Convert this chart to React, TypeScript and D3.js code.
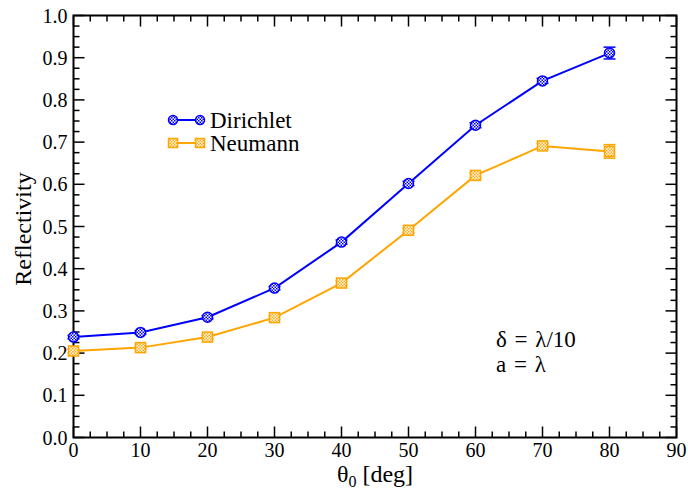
import React from "react";
import * as d3 from "d3";

const angles = [0, 10, 20, 30, 40, 50, 60, 70, 80];
const dirichlet = [0.238, 0.249, 0.285, 0.354, 0.463, 0.602, 0.740, 0.845, 0.911];
const dirichletErr = [0.004, 0.004, 0.004, 0.004, 0.005, 0.005, 0.006, 0.006, 0.014];
const neumann = [0.205, 0.213, 0.238, 0.284, 0.366, 0.491, 0.621, 0.691, 0.678];
const neumannErr = [0.004, 0.004, 0.004, 0.004, 0.005, 0.005, 0.006, 0.006, 0.016];
const xTicks = [0, 10, 20, 30, 40, 50, 60, 70, 80, 90];
const yTicks = [0, 0.1, 0.2, 0.3, 0.4, 0.5, 0.6, 0.7, 0.8, 0.9, 1.0];

const W = 688, H = 489;
const L = 73.5, R = 676.5, T = 15.5, B = 437.5;
const FONT = "'Liberation Serif', 'DejaVu Serif', serif";
const BLUE = "#0000ff";
const ORANGE = "#ffa500";

export default function App() {
  const x = d3.scaleLinear().domain([0, 90]).range([L, R]);
  const y = d3.scaleLinear().domain([0, 1]).range([B, T]);
  const line = d3.line<number>().x((_, i) => x(angles[i])).y((d) => y(d));

  const xMinor = d3.range(0, 90.01, 2.5);
  const yMinor = d3.range(0, 1.0001, 0.025);
  const major = 11, minor = 6;

  const errBars = (vals: number[], errs: number[], color: string) =>
    vals.map((v, i) => {
      const cx = x(angles[i]);
      const y1 = y(v + errs[i]), y2 = y(v - errs[i]);
      return (
        <g key={"e" + i} stroke={color} strokeWidth={1.5}>
          <line x1={cx} x2={cx} y1={y1} y2={y2} />
          <line x1={cx - 6} x2={cx + 6} y1={y1} y2={y1} />
          <line x1={cx - 6} x2={cx + 6} y1={y2} y2={y2} />
        </g>
      );
    });

  return (
    <svg width={W} height={H} style={{ position: "absolute", left: 0, top: 0, background: "#fff" }}>
      <defs>
        <pattern id="chkB" width="3" height="3" patternUnits="userSpaceOnUse">
          <rect width="3" height="3" fill="#ffffff" />
          <rect width="1.5" height="1.5" fill={BLUE} />
          <rect x="1.5" y="1.5" width="1.5" height="1.5" fill={BLUE} />
        </pattern>
        <pattern id="chkO" width="3" height="3" patternUnits="userSpaceOnUse">
          <rect width="3" height="3" fill="#ffffff" />
          <rect width="1.5" height="1.5" fill={ORANGE} />
          <rect x="1.5" y="1.5" width="1.5" height="1.5" fill={ORANGE} />
        </pattern>
      </defs>
      <rect x={0} y={0} width={W} height={H} fill="#fff" />

      {/* ticks */}
      <g stroke="#000" strokeWidth={1.5}>
        {xMinor.map((v, i) => {
          const isMajor = Math.abs(v % 10) < 1e-6;
          const len = isMajor ? major : minor;
          return (
            <g key={"xt" + i}>
              <line x1={x(v)} x2={x(v)} y1={B} y2={B - len} />
              <line x1={x(v)} x2={x(v)} y1={T} y2={T + len} />
            </g>
          );
        })}
        {yMinor.map((v, i) => {
          const isMajor = i % 4 === 0;
          const len = isMajor ? major : minor;
          return (
            <g key={"yt" + i}>
              <line x1={L} x2={L + len} y1={y(v)} y2={y(v)} />
              <line x1={R} x2={R - len} y1={y(v)} y2={y(v)} />
            </g>
          );
        })}
      </g>
      <rect x={L} y={T} width={R - L} height={B - T} fill="none" stroke="#000" strokeWidth={2} />

      {/* tick labels */}
      <g fontFamily={FONT} fontSize={20} fill="#000">
        {xTicks.map((v) => (
          <text key={"xl" + v} x={x(v)} y={457} textAnchor="middle">{v}</text>
        ))}
        {yTicks.map((v) => (
          <text key={"yl" + v} x={L - 6} y={y(v) + 7} textAnchor="end">{v.toFixed(1)}</text>
        ))}
      </g>

      {/* axis titles */}
      <text x={375} y={482} textAnchor="middle" fontFamily={FONT} fontSize={24}>
        θ<tspan fontSize={16} dy={5}>0</tspan><tspan dy={-5}> [deg]</tspan>
      </text>
      <text transform={`translate(31,229) rotate(-90)`} textAnchor="middle" fontFamily={FONT} fontSize={24}>
        Reflectivity
      </text>

      {/* series */}
      <path d={line(dirichlet) || ""} fill="none" stroke={BLUE} strokeWidth={2} />
      <path d={line(neumann) || ""} fill="none" stroke={ORANGE} strokeWidth={2} />
      {errBars(dirichlet, dirichletErr, BLUE)}
      {errBars(neumann, neumannErr, ORANGE)}
      {dirichlet.map((v, i) => (
        <circle key={"dp" + i} cx={x(angles[i])} cy={y(v)} r={5} fill="url(#chkB)" stroke={BLUE} strokeWidth={1.5} />
      ))}
      {neumann.map((v, i) => (
        <rect key={"np" + i} x={x(angles[i]) - 5} y={y(v) - 5} width={10} height={10} fill="url(#chkO)" stroke={ORANGE} strokeWidth={1.5} />
      ))}

      {/* legend */}
      <g>
        <line x1={173} x2={200} y1={120} y2={120} stroke={BLUE} strokeWidth={2} />
        <circle cx={173} cy={120} r={4.5} fill="url(#chkB)" stroke={BLUE} strokeWidth={1.5} />
        <circle cx={200} cy={120} r={4.5} fill="url(#chkB)" stroke={BLUE} strokeWidth={1.5} />
        <text x={210} y={128} fontFamily={FONT} fontSize={23}>Dirichlet</text>
        <line x1={173} x2={200} y1={143} y2={143} stroke={ORANGE} strokeWidth={2} />
        <rect x={168.5} y={138.5} width={9} height={9} fill="url(#chkO)" stroke={ORANGE} strokeWidth={1.5} />
        <rect x={195.5} y={138.5} width={9} height={9} fill="url(#chkO)" stroke={ORANGE} strokeWidth={1.5} />
        <text x={210} y={151} fontFamily={FONT} fontSize={23}>Neumann</text>
      </g>

      {/* annotation */}
      <g fontFamily={FONT} fontSize={23} style={{ wordSpacing: "2px" }}>
        <text x={496} y={347}>δ = λ/10</text>
        <text x={496} y={372}>a = λ</text>
      </g>
    </svg>
  );
}
